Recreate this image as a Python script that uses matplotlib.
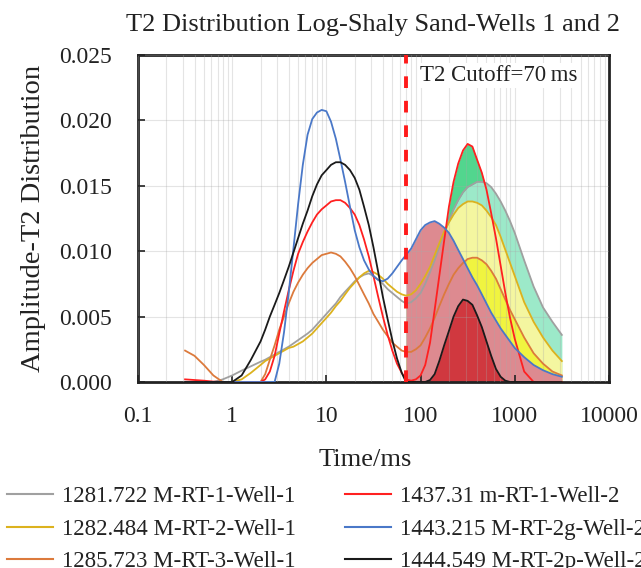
import matplotlib
matplotlib.use("Agg")
import matplotlib.pyplot as plt
from matplotlib.lines import Line2D
import numpy as np

plt.rcParams['font.family'] = ['Liberation Serif', 'DejaVu Serif']

# T2 bins (ms)
t2 = [0.316, 0.398, 0.501, 0.631, 0.794, 1.0, 1.26, 1.58, 2.0,
      2.24, 2.51, 2.82, 3.16, 3.55, 3.98, 4.47, 5.01, 5.62, 6.31,
      7.08, 7.94, 8.91, 10, 11.2, 12.6, 14.1, 15.8, 17.8, 20,
      22.4, 25.1, 28.2, 31.6, 35.5, 39.8, 44.7, 50.1, 56.2, 63.1,
      70,
      79.4, 89.1, 100, 112, 126, 141, 158, 178, 200, 224,
      251, 282, 316, 355, 398, 447, 501, 562, 631, 708,
      794, 891, 1000,
      1259, 1585, 1995, 2512, 3162]

well1_rt1 = [0, 0, 0, 0, 0.0002, 0.0005, 0.00087, 0.0012, 0.00155,
             0.0017, 0.0019, 0.0021, 0.0023, 0.0025, 0.0027, 0.00295, 0.0032, 0.00345, 0.0037,
             0.0040, 0.0044, 0.0048, 0.0052, 0.0056, 0.0060, 0.0065, 0.0069, 0.0073, 0.0077,
             0.0080, 0.0082, 0.0083, 0.0081, 0.0078, 0.0075, 0.0071, 0.0068, 0.0065, 0.0062,
             0.0060,
             0.0061, 0.0064, 0.0068, 0.0075, 0.0084, 0.0093, 0.0103, 0.0113, 0.0123, 0.0132,
             0.0139, 0.0145, 0.0149, 0.0151, 0.0153, 0.0153, 0.0152, 0.0149, 0.0144, 0.0138,
             0.0131, 0.0123, 0.0114,
             0.0093, 0.0073, 0.0057, 0.0046, 0.0036]

well1_rt2 = [0, 0, 0, 0, 0, 0, 0.0002, 0.0007, 0.0013,
             0.0016, 0.0018, 0.0020, 0.0022, 0.0024, 0.0026, 0.0027, 0.0029, 0.0031, 0.0034,
             0.0037, 0.0041, 0.0045, 0.0049, 0.0053, 0.0058, 0.0062, 0.0067, 0.0072, 0.0076,
             0.0080, 0.0083, 0.0085, 0.0084, 0.0082, 0.0079, 0.0075, 0.0072, 0.0069, 0.0067,
             0.0066,
             0.0067, 0.0070, 0.0075, 0.0081, 0.0088, 0.0097, 0.0106, 0.0115, 0.0122, 0.0128,
             0.0133, 0.0136, 0.0138, 0.0138, 0.0137, 0.0135, 0.0131, 0.0126, 0.0120, 0.0111,
             0.0101, 0.0091, 0.0081,
             0.0061, 0.0046, 0.0034, 0.0024, 0.0016]

well1_rt3 = [0.0024, 0.0020, 0.0013, 0.0005, 0, 0, 0, 0, 0,
             0.0006, 0.0017, 0.0028, 0.0040, 0.0050, 0.0060, 0.0069, 0.0076, 0.0082, 0.0087,
             0.0091, 0.0094, 0.0097, 0.0098, 0.0099, 0.0098, 0.0096, 0.0092, 0.0087, 0.0081,
             0.0074, 0.0067, 0.0060, 0.0052, 0.0046, 0.0040, 0.0035, 0.0030, 0.0027, 0.0024,
             0.0023,
             0.0023, 0.0025, 0.0028, 0.0034, 0.0041, 0.0049, 0.0058, 0.0067, 0.0075, 0.0082,
             0.0087, 0.0091, 0.0094, 0.0095, 0.0095, 0.0093, 0.0090, 0.0085, 0.0079, 0.0071,
             0.0063, 0.0055, 0.0048,
             0.0034, 0.0022, 0.0014, 0.0008, 0.0005]

well2_rt1 = [0.0002, 0.00015, 0.0001, 0.00003, 0, 0, 0, 0, 0,
             0.0002, 0.0008, 0.0020, 0.0037, 0.0054, 0.0070, 0.0085, 0.0098, 0.0107, 0.0115,
             0.0122, 0.0128, 0.0132, 0.0135, 0.0138, 0.0139, 0.0139, 0.0137, 0.0133, 0.0128,
             0.0120, 0.0109, 0.0096, 0.0081, 0.0065, 0.0050, 0.0036, 0.0024, 0.0014, 0.0007,
             0.0002,
             0.0001, 0.0002, 0.0005, 0.0013, 0.0030, 0.0055, 0.0081, 0.0108, 0.0134, 0.0153,
             0.0167, 0.0177, 0.0182, 0.0180, 0.0170, 0.0160, 0.0147, 0.0129, 0.0110, 0.0089,
             0.0068, 0.0049, 0.0033,
             0.0008, 0, 0, 0, 0]

well2_rt2g = [0, 0, 0, 0, 0, 0, 0, 0, 0,
              0, 0, 0, 0.0014, 0.0038, 0.0068, 0.0102, 0.0136, 0.0166, 0.0189,
              0.0201, 0.0206, 0.0208, 0.0207, 0.0199, 0.0186, 0.0170, 0.0153, 0.0134, 0.0116,
              0.0103, 0.0093, 0.0086, 0.0081, 0.0078, 0.0077, 0.0079, 0.0083, 0.0088, 0.0093,
              0.0097,
              0.0102, 0.0109, 0.0116, 0.0120, 0.0122, 0.0123, 0.0121, 0.0118, 0.0114, 0.0108,
              0.0101, 0.0094, 0.0087, 0.0080, 0.0074, 0.0067, 0.0060, 0.0053, 0.0047, 0.0041,
              0.0036, 0.0031, 0.0026,
              0.0019, 0.0013, 0.0009, 0.0006, 0.0004]

well2_rt2p = [0, 0, 0, 0, 0, 0, 0.0005, 0.0017, 0.0031,
              0.0040, 0.0050, 0.0059, 0.0068, 0.0078, 0.0088, 0.0099, 0.0110, 0.0121, 0.0131,
              0.0142, 0.0151, 0.0158, 0.0162, 0.0166, 0.0168, 0.0168, 0.0166, 0.0162, 0.0156,
              0.0147, 0.0134, 0.0120, 0.0103, 0.0084, 0.0065, 0.0048, 0.0032, 0.0018, 0.0007,
              0,
              0, 0, 0, 0, 0.00015, 0.0006, 0.0016, 0.0028, 0.0039, 0.0050,
              0.0058, 0.0063, 0.0062, 0.0059, 0.0051, 0.0042, 0.0031, 0.0020, 0.0010, 0.0004,
              0.0001, 0, 0,
              0, 0, 0, 0, 0]

labels = ["1281.722 M-RT-1-Well-1", "1282.484 M-RT-2-Well-1", "1285.723 M-RT-3-Well-1",
          "1437.31 m-RT-1-Well-2", "1443.215 M-RT-2g-Well-2", "1444.549 M-RT-2p-Well-2"]
series = [well1_rt1, well1_rt2, well1_rt3, well2_rt1, well2_rt2g, well2_rt2p]
line_colors = ["#a0a0a0", "#dcb21e", "#dc7a3c", "#ff2020", "#4a78c8", "#1a1a1a"]
fill_colors = ["#9ce9c9", "#f4f6a0", "#f0f440", "#52d68e", "#dd8a90", "#d0383f"]
fill_order = [3, 0, 1, 2, 4, 5]
cutoff = 70

fig = plt.figure(figsize=(6.41, 5.68), dpi=100)
ax = fig.add_axes([0.2153, 0.3275, 0.7347, 0.5757])

x = np.array(t2)
mask = x >= cutoff
for k, i in enumerate(fill_order):
    y = np.array(series[i])
    ax.fill_between(x[mask], 0, y[mask], color=fill_colors[i], lw=0, zorder=1 + k * 0.01)

for i, y in enumerate(series):
    ax.plot(x, y, color=line_colors[i], lw=1.3, zorder=3, label=labels[i])

ax.axvline(cutoff, color="#ff1a1a", lw=2.8, dashes=(3.0, 3.3), zorder=4)
ax.text(99, 0.0234, "T2 Cutoff=70\u2009ms", fontsize=16.5, va="center", ha="left",
        color="#222222", zorder=5,
        bbox=dict(facecolor="white", edgecolor="none", pad=1.5))

ax.set_xscale("log")
ax.set_xlim(0.1, 10000)
ax.set_ylim(0, 0.025)
ax.set_xticks([0.1, 1, 10, 100, 1000, 10000])
ax.set_xticklabels(["0.1", "1", "10", "100", "1000", "10000"])
ax.set_yticks([0, 0.005, 0.01, 0.015, 0.02, 0.025])
ax.set_yticklabels(["0.000", "0.005", "0.010", "0.015", "0.020", "0.025"])
ax.tick_params(axis="both", which="major", direction="in", length=5, width=1.2,
               labelsize=17, colors="#222222")
ax.tick_params(axis="x", which="major", pad=17)
ax.tick_params(axis="y", which="major", pad=18.5)
ax.tick_params(axis="x", which="minor", length=0)
ax.set_axisbelow(False)
ax.grid(True, which="both", axis="x", color="#a8a8a8", alpha=0.3, lw=0.8)
ax.grid(True, which="major", axis="y", color="#a8a8a8", alpha=0.3, lw=0.8)
for s in ax.spines.values():
    s.set_linewidth(2.0)
    s.set_color("#222222")

ax.set_title("T2 Distribution Log-Shaly Sand-Wells 1 and 2", fontsize=19, color="#222222", pad=17)
ax.set_xlabel("Time/ms", fontsize=19, color="#222222")
ax.xaxis.set_label_coords(0.482, -0.2045)
ax.set_ylabel("Amplitude-T2 Distribution", fontsize=20.5, color="#222222")
ax.yaxis.set_label_coords(-0.196, 0.5)

handles = [Line2D([0], [0], color=c, lw=1.5) for c in line_colors]
fig.legend(handles, labels, ncol=2, loc="upper left", bbox_to_anchor=(0.011, 0.1444),
           frameon=False, fontsize=16.5, handlelength=2.0, handletextpad=0.39,
           columnspacing=2.14, labelspacing=0.5, borderpad=0, borderaxespad=0,
           labelcolor="#222222")

fig.savefig("out.png", dpi=100)
